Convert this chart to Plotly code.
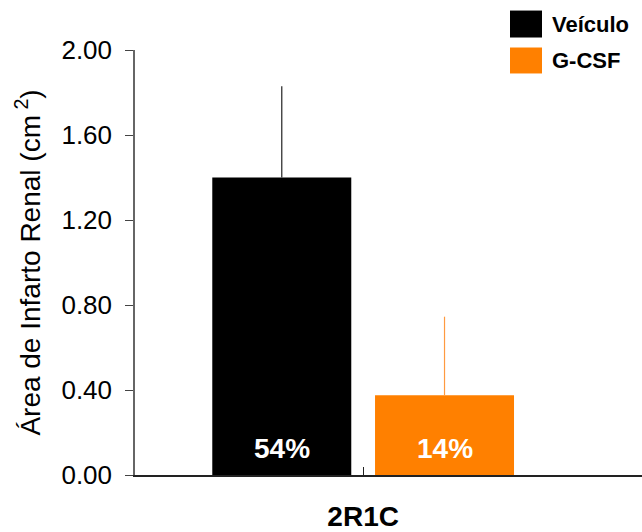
import plotly.graph_objects as go

# Data
categories = ["2R1C"]
groups = ["Veículo", "G-CSF"]
means = [1.40, 0.375]
errors_up = [0.43, 0.37]
pct_labels = ["54%", "14%"]
colors = ["#000000", "#FF8000"]
err_colors = ["#222222", "#FF9A40"]
y_ticks = [0.0, 0.4, 0.8, 1.2, 1.6, 2.0]

FONT = "Arial, Liberation Sans, sans-serif"

# plot area in pixels
L, R, T, B = 135, 642, 49.5, 475
PW, PH = R - L, B - T

fig = go.Figure()
for name, m, e, c, ec in zip(groups, means, errors_up, colors, err_colors):
    fig.add_trace(go.Bar(
        name=name, x=categories, y=[m],
        marker=dict(color=c, line=dict(width=0)),
        error_y=dict(type="data", symmetric=False, array=[e], arrayminus=[0],
                     color=ec, thickness=1.2, width=0),
        showlegend=False,
    ))

# percentage labels inside the bars, near the base
slot = 0.321
for i, (lab, m) in enumerate(zip(pct_labels, means)):
    xpos = (i - 0.5) * slot
    fig.add_annotation(x=xpos, y=0.127, xref="x", yref="y", text=f"<b>{lab}</b>",
                       showarrow=False, font=dict(family=FONT, size=28, color="white"))

# legend boxes and labels (top right)
leg_items = [(groups[0], colors[0], 10, 37), (groups[1], colors[1], 47, 73)]
for name, c, y0, y1 in leg_items:
    fig.add_shape(type="rect", xref="paper", yref="paper",
                  x0=(510 - L) / PW, x1=(542 - L) / PW,
                  y0=(B - y1) / PH, y1=(B - y0) / PH,
                  fillcolor=c, line=dict(width=0))
    fig.add_annotation(xref="paper", yref="paper", x=(550 - L) / PW,
                       y=(B - (y0 + y1) / 2) / PH, xanchor="left", yanchor="middle",
                       text=f"<b>{name}</b>", showarrow=False,
                       font=dict(family=FONT, size=22, color="black"))

fig.update_layout(
    width=642, height=532,
    margin=dict(l=L, r=642 - R, t=T, b=532 - B),
    paper_bgcolor="white", plot_bgcolor="white",
    barmode="group", bargap=0.358, bargroupgap=0.146,
    font=dict(family=FONT, color="black"),
)
fig.update_xaxes(
    range=[-0.45, 0.55], showgrid=False, zeroline=False,
    showline=True, linecolor="#222222", linewidth=1.5,
    ticks="inside", ticklen=8, tickcolor="#222222", tickwidth=1,
    tickfont=dict(family=FONT, size=28, color="black"),
    tickvals=[0], ticktext=["<b>2R1C</b>"], ticklabelstandoff=16,
)
fig.update_yaxes(
    range=[0, 2], showgrid=False, zeroline=False,
    showline=True, linecolor="#666666", linewidth=1.5,
    ticks="outside", ticklen=8, tickcolor="#444444", tickwidth=1,
    tickvals=y_ticks, tickformat=".2f",
    tickfont=dict(family=FONT, size=26, color="black"),
    ticklabelstandoff=8,
    title=dict(text="Área de Infarto Renal (cm<sup> 2</sup>)",
               font=dict(family=FONT, size=28, color="black"), standoff=13),
)

fig.write_html("out.html")
